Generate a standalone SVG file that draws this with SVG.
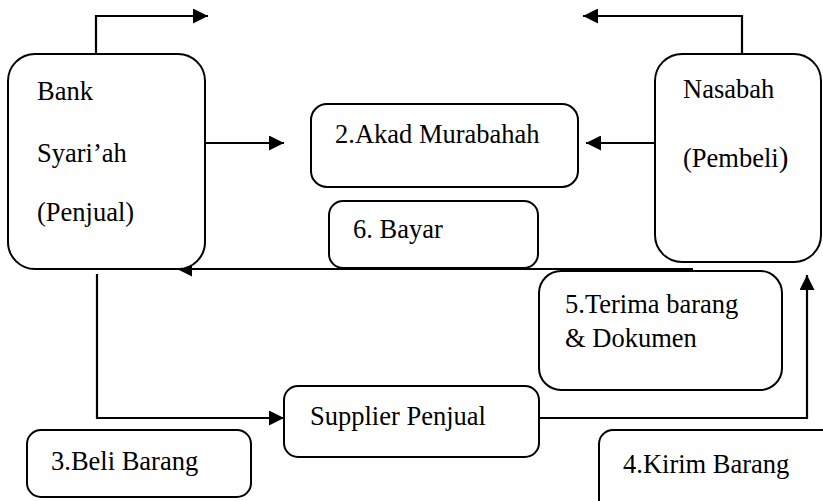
<svg xmlns="http://www.w3.org/2000/svg" width="823" height="501" viewBox="0 0 823 501">
<defs>
<style>
.box{fill:#fff;stroke:#000;stroke-width:2}
.c{fill:none;stroke:#000;stroke-width:2.2}
</style>
<marker id="ah" viewBox="0 0 10 10" refX="10" refY="5" markerWidth="16" markerHeight="15" markerUnits="userSpaceOnUse" orient="auto">
<path d="M0,0 L10,5 L0,10 z" fill="#000"/>
</marker>
</defs>
<rect width="823" height="501" fill="#fff"/>
<g id="connectors">
<path class="c" d="M96,53 V16 H208" marker-end="url(#ah)"/>
<path class="c" d="M742,53 V16 H583" marker-end="url(#ah)"/>
<path class="c" d="M205,143 H284" marker-end="url(#ah)"/>
<path class="c" d="M655,143 H586" marker-end="url(#ah)"/>
<path class="c" d="M693,269 H177" marker-end="url(#ah)"/>
<path class="c" d="M97,274 V418 H284" marker-end="url(#ah)"/>
<path class="c" d="M539,418 H807 V275" marker-end="url(#ah)"/>
</g>
<g font-family="'Liberation Serif', 'Times New Roman', Times, serif" font-size="26.5" fill="#000">
<g id="bank">
<rect class="box" x="8" y="54" width="197" height="215" rx="27"/>
<text x="37" y="100">Bank</text>
<text x="37" y="162">Syari’ah</text>
<text x="37" y="221">(Penjual)</text>
</g>
<g id="nasabah">
<rect class="box" x="655" y="54" width="166" height="208" rx="27"/>
<text x="683" y="98">Nasabah</text>
<text x="683" y="167">(Pembeli<tspan font-size="29">)</tspan></text>
</g>
<g id="akad">
<rect class="box" x="311" y="104" width="267" height="83" rx="16"/>
<text x="335" y="143">2.Akad Murabahah</text>
</g>
<g id="bayar">
<rect class="box" x="329" y="201" width="209" height="67" rx="14"/>
<text x="353" y="238">6. Bayar</text>
</g>
<g id="terima">
<rect class="box" x="539" y="271" width="243" height="119" rx="22"/>
<text x="565" y="313">5.Terima barang</text>
<text x="565" y="347">&amp; Dokumen</text>
</g>
<g id="supplier">
<rect class="box" x="284" y="386" width="255" height="71" rx="14"/>
<text x="310" y="425">Supplier Penjual</text>
</g>
<g id="beli">
<rect class="box" x="27" y="430" width="224" height="67" rx="14"/>
<text x="51" y="470">3.Beli Barang</text>
</g>
<g id="kirim">
<rect class="box" x="599" y="430" width="240" height="90" rx="14"/>
<text x="623" y="473">4.Kirim Barang</text>
</g>
</g>
</svg>
